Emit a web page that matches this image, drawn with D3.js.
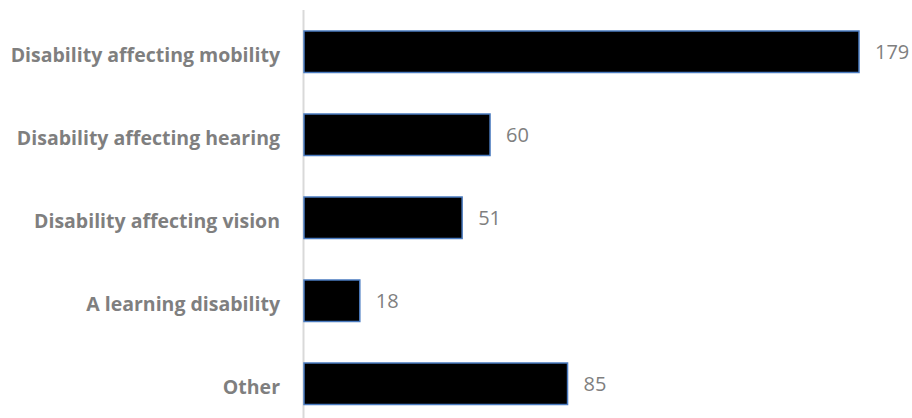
<!DOCTYPE html>
<html><head><meta charset="utf-8">
<script src="https://cdn.jsdelivr.net/npm/d3@7"></script>
<style>body{margin:0;background:#fff}svg{display:block}</style>
</head><body>
<svg id="c" width="912" height="418"></svg>
<script>
const categories = ["Disability affecting mobility","Disability affecting hearing","Disability affecting vision","A learning disability","Other"];
const values = [179, 60, 51, 18, 85];

const svg = d3.select("#c");
const x0 = 304;
const x = d3.scaleLinear().domain([0, 179]).range([x0, 859]);
const y = d3.scaleBand().domain(categories).range([10.25, 425.25]).paddingInner(0.5).paddingOuter(0.25);

svg.append("line").attr("x1", x0 - 0.5).attr("x2", x0 - 0.5).attr("y1", 10).attr("y2", 418)
  .attr("stroke", "#d9d9d9").attr("stroke-width", 2);

svg.selectAll("rect.bar").data(values).enter().append("rect")
  .attr("x", x(0)).attr("y", (d,i) => y(categories[i]))
  .attr("width", d => x(d) - x(0)).attr("height", y.bandwidth())
  .attr("fill", "#000").attr("stroke", "#4a7bc0").attr("stroke-width", 1.5);

svg.selectAll("text.val").data(values).enter().append("text")
  .attr("x", d => x(d) + 16).attr("y", (d,i) => y(categories[i]) + y.bandwidth()/2 + 7.5)
  .attr("fill", "#7f7f7f")
  .attr("font-family", "Open Sans, sans-serif").attr("font-size", 20)
  .text(d => d);

svg.selectAll("text.cat").data(categories).enter().append("text")
  .attr("x", 280).attr("y", d => y(d) + y.bandwidth()/2 + 10.5)
  .attr("text-anchor", "end").attr("fill", "#7f7f7f")
  .attr("font-family", "Open Sans, sans-serif").attr("font-weight", "bold").attr("font-size", 19.5)
  .text(d => d);
</script>
</body></html>
